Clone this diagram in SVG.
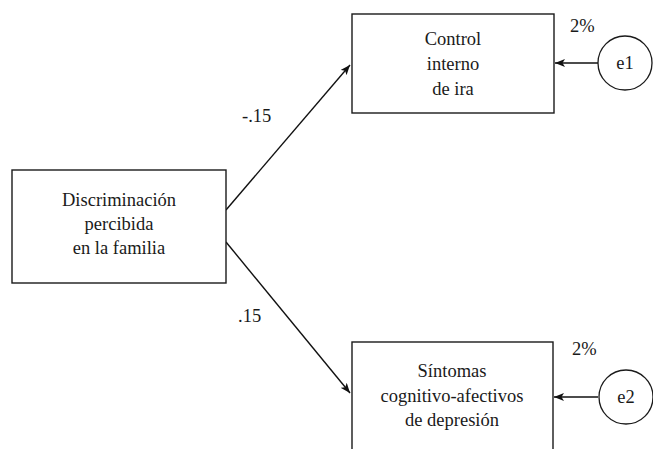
<svg xmlns="http://www.w3.org/2000/svg" width="653" height="449" viewBox="0 0 653 449">
<style>
.box{fill:#fff;stroke:#1a1a1a;stroke-width:1.4}
.err{fill:#fff;stroke:#1a1a1a;stroke-width:1.3}
text{font-family:'Liberation Serif','Times New Roman',Times,serif;font-size:18.5px;fill:#1a1a1a}
.t{text-anchor:middle}
.c{fill:none;stroke:#111;stroke-width:1.4}
</style>
<defs>
<marker id="ah" viewBox="0 0 10 8" refX="10" refY="4" markerWidth="10" markerHeight="8" markerUnits="userSpaceOnUse" orient="auto">
<path d="M0,0 L10,4 L0,8 L2.5,4 Z" fill="#111"/>
</marker>
</defs>
<rect width="653" height="449" fill="#fff"/>
<g id="connectors">
<line class="c" x1="226" y1="210" x2="350" y2="65" marker-end="url(#ah)"/>
<line class="c" x1="226" y1="242" x2="350" y2="393" marker-end="url(#ah)"/>
<line class="c" x1="598" y1="63" x2="555" y2="63" marker-end="url(#ah)"/>
<line class="c" x1="598" y1="397" x2="554" y2="397" marker-end="url(#ah)"/>
<text x="242" y="122" font-family="Liberation Serif, serif">-.15</text>
<text x="238" y="322" font-family="Liberation Serif, serif">.15</text>
</g>
<g id="discriminacion" font-family="Liberation Serif, serif">
<rect class="box" x="12" y="170" width="214" height="113"/>
<text class="t" x="119" y="206">Discriminación</text>
<text class="t" x="119" y="230">percibida</text>
<text class="t" x="119" y="254">en la familia</text>
</g>
<g id="control">
<rect class="box" x="352" y="14" width="202" height="99"/>
<text class="t" x="453" y="45">Control</text>
<text class="t" x="453" y="70">interno</text>
<text class="t" x="453" y="95">de ira</text>
</g>
<g id="sintomas">
<rect class="box" x="352" y="342" width="201" height="120"/>
<text class="t" x="452" y="377">Síntomas</text>
<text class="t" x="452" y="402">cognitivo-afectivos</text>
<text class="t" x="452" y="426">de depresión</text>
</g>
<g id="e1">
<circle class="err" cx="625" cy="63" r="27"/>
<text class="t" x="625" y="69">e1</text>
<text x="570" y="32">2%</text>
</g>
<g id="e2">
<circle class="err" cx="626" cy="397" r="27"/>
<text class="t" x="626" y="403">e2</text>
<text x="572" y="355">2%</text>
</g>
</svg>
